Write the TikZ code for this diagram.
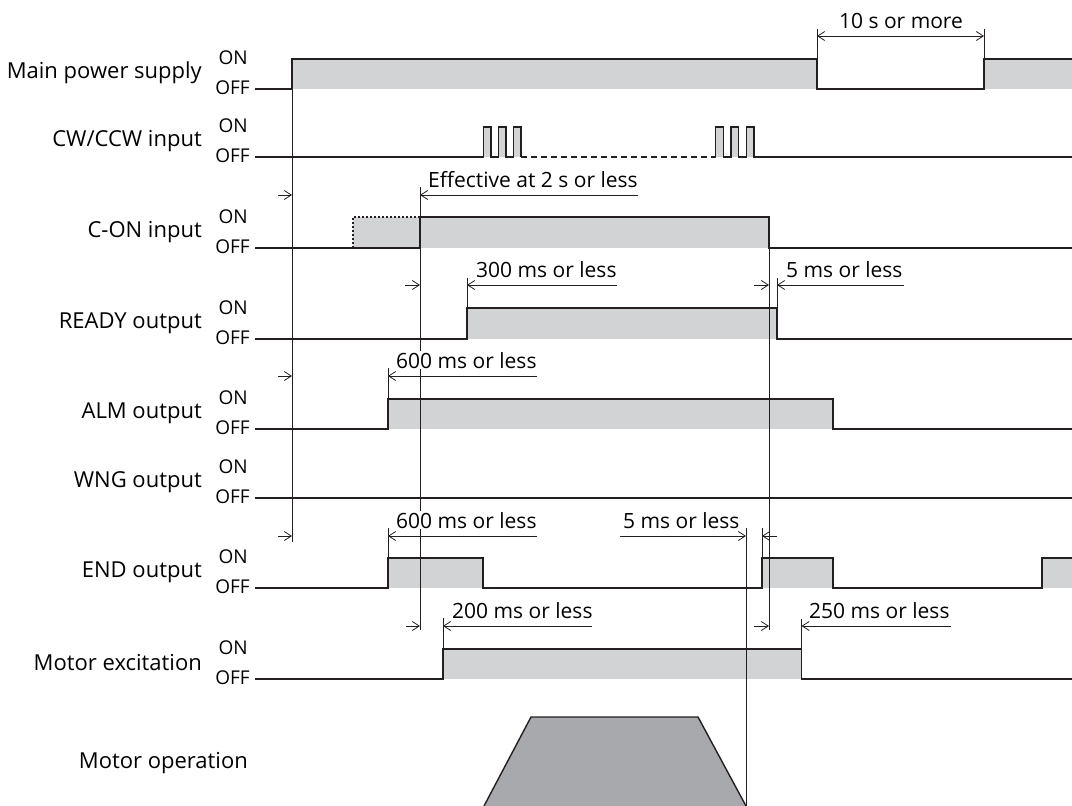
\documentclass[tikz,border=0pt]{standalone}
\usepackage{fontspec}
\setmainfont{Open Sans}
\usetikzlibrary{arrows.meta}
\definecolor{sigline}{HTML}{231F20}
\definecolor{onfill}{HTML}{D1D3D4}
\definecolor{motorfill}{HTML}{A7A9AC}
\tikzset{
  sig/.style={draw=sigline, line width=1.4pt, line join=miter},
  hi/.style={fill=onfill},
  guide/.style={draw=sigline, line width=0.8pt},
  dimarr/.style={guide, -{Straight Barb[length=7pt,width=9pt]}},
  rowlabel/.style={anchor=east, inner sep=0pt, font=\fontsize{22}{22}\selectfont},
  lvl/.style={anchor=east, inner sep=0pt, font=\fontsize{19}{19}\selectfont},
  note/.style={anchor=base west, inner sep=1pt, fill=white, font=\fontsize{21}{21}\selectfont}
}
\begin{document}
\begin{tikzpicture}[x=1pt, y=-1pt]
        \useasboundingbox (0,0) rectangle (1072,806);

        % row labels with ON/OFF levels
        \foreach \name/\txt/\yoff in {mps/Main power supply/89, cw/CW\slash CCW input/157,
                                     con/C-ON input/248, rdy/READY output/339,
                                     alm/ALM output/429, wng/WNG output/498,
                                     fin/END output/588, exc/Motor excitation/679}{
          \node[rowlabel] (\name) at (202,\yoff-16) {\txt};
          \node[lvl] (\name-on) at (248,\yoff-31) {ON};
          \node[lvl] (\name-off) at (250,\yoff-1) {OFF};
        }
        \node[rowlabel] (mop) at (248,763) {Motor operation};

        % Main power supply
        \fill[hi] (292,89) rectangle (817,59);
        \fill[hi] (984,89) rectangle (1072,59);
        \draw[sig] (255,89) -- (292,89) -- (292,59) -- (817,59) -- (817,89) -- (984,89) -- (984,59) -- (1072,59);

        % CW/CCW input
        \foreach \x in {483.5,498.5,513.5,715.7,731,746.5}
          \fill[hi] (\x,157) rectangle ++(7.5,-30);
        \draw[sig] (255,157) \foreach \x in {483.5,498.5,513.5}{ -- (\x,157) -- (\x,127) -- (\x+7.5,127) -- (\x+7.5,157)};
        \draw[sig, dash pattern=on 6pt off 4pt] (521,157) -- (715.7,157);
        \draw[sig] (715.7,157) \foreach \x in {715.7,731,746.5}{ -- (\x,157) -- (\x,127) -- (\x+7.5,127) -- (\x+7.5,157)} -- (1072,157);

        % C-ON input
        \fill[hi] (353,248) rectangle (769,217);
        \draw[sig] (255,248) -- (420,248) -- (420,217) -- (769,217) -- (769,248) -- (1072,248);
        \draw[sig, line width=1.2pt, dash pattern=on 2pt off 2pt] (353,248) -- (353,217) -- (420,217);

        % READY output
        \fill[hi] (467,339) rectangle (777,308);
        \draw[sig] (255,339) -- (467,339) -- (467,308) -- (777,308) -- (777,339) -- (1072,339);

        % ALM output
        \fill[hi] (388,429) rectangle (833,399);
        \draw[sig] (255,429) -- (388,429) -- (388,399) -- (833,399) -- (833,429) -- (1072,429);

        % WNG output
        \draw[sig] (255,498) -- (1072,498);

        % END output
        \fill[hi] (388,588) rectangle (483,558);
        \fill[hi] (762,588) rectangle (833,558);
        \fill[hi] (1042,588) rectangle (1072,558);
        \draw[sig] (255,588) -- (388,588) -- (388,558) -- (483,558) -- (483,588) -- (762,588) -- (762,558)
                   -- (833,558) -- (833,588) -- (1042,588) -- (1042,558) -- (1072,558);

        % Motor excitation
        \fill[hi] (443,679) rectangle (801.5,649);
        \draw[sig] (255,679) -- (443,679) -- (443,649) -- (801.5,649) -- (801.5,679) -- (1072,679);

        % Motor operation
        \fill[motorfill] (484,806) -- (531,717) -- (698,717) -- (746,806) -- cycle;
        \draw[sig] (484,806) -- (531,717) -- (698,717) -- (746,806);

        % guide lines
        \draw[guide] (292,59) -- (292,542);
        \draw[guide] (420,187) -- (420,630);
        \draw[guide] (769,217) -- (769,630);
        \draw[guide] (746,528) -- (746,806);
        \draw[guide] (817,59) -- (817,29);
        \draw[guide] (984,59) -- (984,29);
        \draw[guide] (467,308) -- (467,278);
        \draw[guide] (777,308) -- (777,278);
        \draw[guide] (388,399) -- (388,368);
        \draw[guide] (388,558) -- (388,528);
        \draw[guide] (762,558) -- (762,528);
        \draw[guide] (443,649) -- (443,618);
        \draw[guide] (801.5,649) -- (801.5,619);

        % timing dimensions
        \draw[guide, {Straight Barb[length=7pt,width=9pt]}-{Straight Barb[length=7pt,width=9pt]}] (817,36) -- (984,36);
        \node[anchor=base, inner sep=0pt, font=\fontsize{21}{21}\selectfont] (t10s) at (901,28) {10 s or more};

        \draw[dimarr] (278,195) -- (292,195);
        \draw[dimarr] (638,195) -- (420,195);
        \node[note] (teff) at (427,187) {Effective at 2 s or less};

        \draw[dimarr] (405,285) -- (420,285);
        \draw[dimarr] (617,285) -- (467,285);
        \node[note] (t300) at (475,277) {300 ms or less};

        \draw[dimarr] (754,285) -- (769,285);
        \draw[dimarr] (904,285) -- (777,285);
        \node[note] (t5a) at (785,277) {5 ms or less};

        \draw[dimarr] (278,376) -- (292,376);
        \draw[dimarr] (537,376) -- (388,376);
        \node[note] (t600a) at (395,368) {600 ms or less};

        \draw[dimarr] (278,536) -- (292,536);
        \draw[dimarr] (537,536) -- (388,536);
        \node[note] (t600b) at (395,528) {600 ms or less};

        \draw[dimarr] (620,536) -- (746,536);
        \draw[dimarr] (777,536) -- (762,536);
        \node[note] (t5b) at (622,528) {5 ms or less};

        \draw[dimarr] (406,626) -- (420,626);
        \draw[dimarr] (592,626) -- (443,626);
        \node[note] (t200) at (451,618) {200 ms or less};

        \draw[dimarr] (754,626) -- (769,626);
        \draw[dimarr] (951,626) -- (801.5,626);
        \node[note] (t250) at (808,618) {250 ms or less};
    \end{tikzpicture}
\end{document}
